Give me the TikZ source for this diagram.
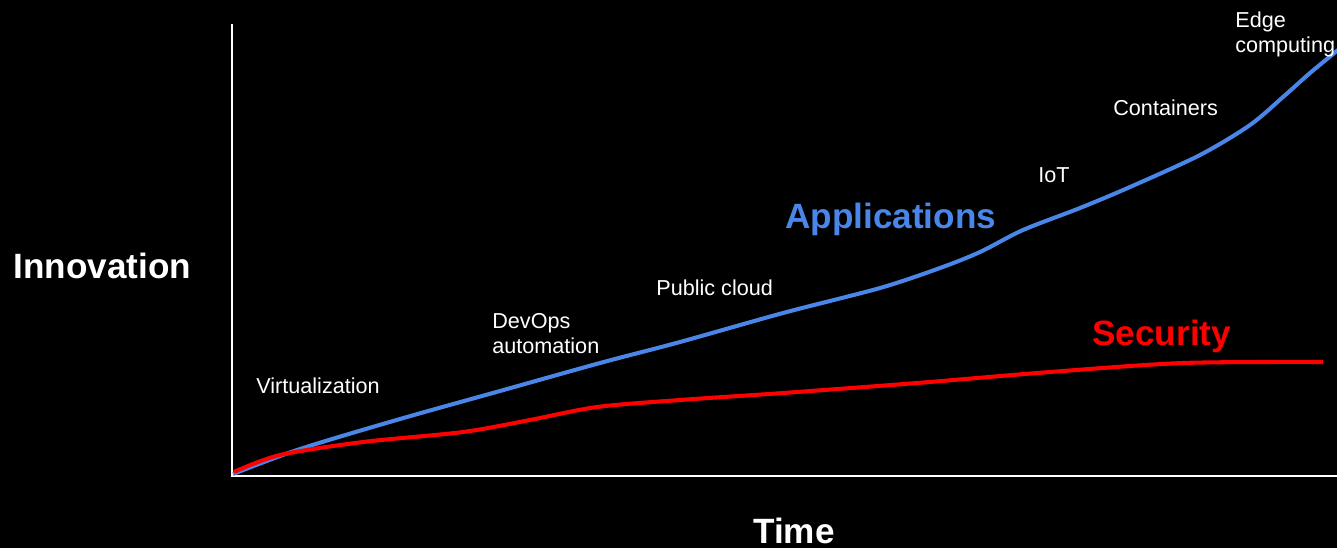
\documentclass[tikz,border=0pt]{standalone}
\usepackage{fontspec}
\setmainfont{Liberation Sans}
\definecolor{appblue}{HTML}{4A86E8}
\definecolor{secred}{HTML}{FF0000}

\tikzset{
  milestone/.style={text=white, font=\fontsize{12.3}{14.2}\selectfont, inner sep=0pt, anchor=base west, align=left},
  trendlabel/.style={font=\fontsize{20}{24}\selectfont\bfseries, inner sep=0pt, anchor=base west},
  axislabel/.style={text=white, font=\fontsize{20}{24}\selectfont\bfseries, inner sep=0pt, anchor=base west},
}

\begin{document}
\begin{tikzpicture}[x=0.02cm, y=-0.02cm]

\fill[black] (0,0) rectangle (1337,548);
\useasboundingbox (0,0) rectangle (1337,548);

% axes
\path
(232,24) coordinate (ytop)
(232,476) coordinate (origin)
(1337,476) coordinate (xend)
;
\draw[white, line width=1.2pt] (ytop) -- (origin) -- (xend);

\node[axislabel] (innovation) at (13,278) {Innovation};
\node[axislabel] (time) at (753,543) {Time};

% applications
\draw[appblue, line width=2.3pt] plot[smooth, tension=0.5] coordinates {
(233,474) (300,449) (400,419) (500,391) (600,363) (680,342) (783,313) (880,288) (940,268) (980,252) (1023,230) (1080,208) (1130,187) (1200,155) (1250,125) (1283,97) (1310,73) (1338,50)
};
\node[trendlabel, text=appblue] (apps) at (785,228) {Applications};

% security
\draw[secred, line width=2.3pt] plot[smooth, tension=0.5] coordinates {
(234,472) (280,455) (363,442) (463,432) (530,420) (597,407) (680,400) (783,393) (917,383) (1050,372) (1183,363) (1323,362)
};
\node[trendlabel, text=secred] (security) at (1092,345) {Security};

% milestones
\node[milestone] (virt) at (256,393) {Virtualization};
\node[milestone] (devops) at (492,353) {DevOps\\automation};
\node[milestone] (pubcloud) at (656,295) {Public cloud};
\node[milestone] (iot) at (1038,182) {IoT};
\node[milestone] (containers) at (1113,115) {Containers};
\node[milestone] (edge) at (1235,52) {Edge\\computing};

\end{tikzpicture}
\end{document}
